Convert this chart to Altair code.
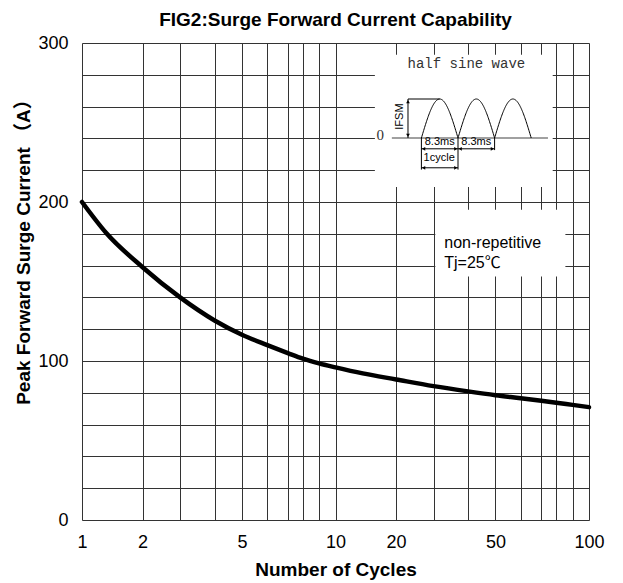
import altair as alt
import pandas as pd
import numpy as np

# ---------------- data ----------------
cycles = [1, 1.4, 2, 3, 4, 5, 6, 7, 8, 9, 10, 14.5, 20, 30, 40, 50, 60, 70, 80, 90, 100]
current = [200, 180.5, 159, 140, 125.5, 116.5, 110, 105, 101.5, 98.5, 96, 92.2,
           88.4, 84.2, 80.9, 78.5, 76.6, 75, 73.8, 72.4, 71]

x_grid = [1, 2, 3, 4, 5, 6, 7, 8, 9, 10, 20, 30, 40, 50, 60, 70, 80, 90, 100]
x_labels = [1, 2, 5, 10, 20, 50, 100]
y_grid = list(range(0, 301, 20))
y_labels = [0, 100, 200, 300]

title_text = "FIG2:Surge Forward Current Capability"

# white annotation boxes (in data units of the main chart)
box_x = [16.5, 30.5]
box_x2 = [77.6, 85.6]
box_y = [209.5, 153.1]
box_y2 = [292.6, 195.1]

note_x = [33.1, 33.1]
note_y = [171.2, 158.6]
note_text = ["non-repetitive", "Tj=25\u2103"]

# inset schematic (x in ms, y in units of IFSM)
half_period = 8.3
base_t = [-6.7, 28.7]
dim_t1 = [-3.04, -3.04, 0, 8.3, 16.6, 0, 8.3, 0]
dim_t2 = [4.15, -3.04, 0, 8.3, 16.6, 8.3, 16.6, 8.3]
dim_a1 = [1, 0, 0, 0, 0, -0.277, -0.277, -0.764]
dim_a2 = [1, 1, -0.81, -0.81, -0.31, -0.277, -0.277, -0.764]
head_t = [-3.04, -3.04, 0.5, 7.8, 8.8, 16.1, 0.5, 7.8]
head_a = [0.93, 0.07, -0.277, -0.277, -0.277, -0.277, -0.764, -0.764]
head_shape = ["triangle-up", "triangle-down", "triangle-left", "triangle-right",
              "triangle-left", "triangle-right", "triangle-left", "triangle-right"]
small_t = [4.15, 12.45, 4.04]
small_a = [-0.108, -0.108, -0.505]
small_text = ["8.3ms", "8.3ms", "1cycle"]

# ---------------- layout / scales ----------------
W, H = 507, 477
FONT = "Liberation Sans, Arial, Noto Sans CJK SC"
decade_frac = [0, 0.239, 0.387, 0.523, 0.631, 0.731, 0.812, 0.871, 0.935]
D = W / 2
x_range = [f * D for f in decade_frac] + [D + f * D for f in decade_frac] + [W]

xs = alt.Scale(domain=x_grid, range=x_range, zero=False, nice=False)
ys = alt.Scale(domain=[0, 300], zero=False, nice=False)
xi = alt.Scale(domain=[-10, 30], range=[295.3, 471.7], nice=False, zero=False)
yi = alt.Scale(domain=[0, 1], range=[95, 56], nice=False, zero=False)

curve_df = pd.DataFrame({"n": cycles, "i": current})
box_df = pd.DataFrame({"x": box_x, "x2": box_x2, "y": box_y, "y2": box_y2})
note_df = pd.DataFrame({"x": note_x, "y": note_y, "t": note_text})
title_df = pd.DataFrame({"x": [10], "y": [310.7], "t": [title_text]})

tt = np.linspace(0, 3 * half_period, 241)
hump_df = pd.DataFrame({"t": tt, "a": np.abs(np.sin(np.pi * tt / half_period))})
base_df = pd.DataFrame({"t": [base_t[0]], "t2": [base_t[1]], "a": [0.0]})
dim_df = pd.DataFrame({"t": dim_t1, "t2": dim_t2, "a": dim_a1, "a2": dim_a2})
head_df = pd.DataFrame({"t": head_t, "a": head_a, "s": head_shape})
small_df = pd.DataFrame({"t": small_t, "a": small_a, "txt": small_text})

x_axis = alt.Axis(values=x_grid,
                  labelExpr="indexof([1,2,5,10,20,50,100], datum.value) >= 0 ? datum.label : ''",
                  grid=True, gridColor="#333", gridWidth=1, gridOpacity=1,
                  ticks=False, tickSize=0, domain=False, labelOverlap=False, labelFlush=False,
                  labelFontSize=18, labelFont=FONT, labelColor="black", labelPadding=13,
                  title="Number of Cycles", titleFontSize=19, titleFont=FONT,
                  titleFontWeight="bold", titleColor="black", titleY=55,
                  titleBaseline="alphabetic")
y_axis = alt.Axis(values=y_grid,
                  labelExpr="datum.value % 100 === 0 ? datum.label : ''",
                  grid=True, gridColor="#333", gridWidth=1, gridOpacity=1,
                  ticks=False, tickSize=0, domain=False, labelOverlap=False,
                  labelFontSize=18, labelFont=FONT, labelColor="black", labelPadding=14,
                  title="Peak Forward Surge Current \uff08A\uff09", titleFontSize=19,
                  titleFont=FONT, titleFontWeight="bold", titleColor="black",
                  titleX=-59, titleY=204, titleAngle=270, titleAlign="center",
                  titleBaseline="middle")

boxes = alt.Chart(box_df).mark_rect(color="white", opacity=1).encode(
    x=alt.X("x:Q", scale=xs, axis=None), x2="x2:Q",
    y=alt.Y("y:Q", scale=ys, axis=None), y2="y2:Q")

curve = alt.Chart(curve_df).mark_line(color="black", strokeWidth=4.5, interpolate="monotone",
                                      strokeCap="round").encode(
    x=alt.X("n:Q", scale=xs, axis=x_axis),
    y=alt.Y("i:Q", scale=ys, axis=y_axis))

notes = alt.Chart(note_df).mark_text(align="left", baseline="alphabetic", fontSize=16,
                                     font=FONT, color="black").encode(
    x=alt.X("x:Q", scale=xs, axis=None), y=alt.Y("y:Q", scale=ys, axis=None), text="t:N")

title = alt.Chart(title_df).mark_text(align="center", baseline="alphabetic", fontSize=19,
                                      fontWeight="bold", font=FONT, color="black").encode(
    x=alt.X("x:Q", scale=xs, axis=None), y=alt.Y("y:Q", scale=ys, axis=None), text="t:N")

base = alt.Chart(base_df).mark_rule(color="#808080", strokeWidth=1.6).encode(
    x=alt.X("t:Q", scale=xi, axis=None), x2="t2:Q", y=alt.Y("a:Q", scale=yi, axis=None))

humps = alt.Chart(hump_df).mark_line(color="black", strokeWidth=1).encode(
    x=alt.X("t:Q", scale=xi, axis=None), y=alt.Y("a:Q", scale=yi, axis=None))

dims = alt.Chart(dim_df).mark_rule(color="black", strokeWidth=1).encode(
    x=alt.X("t:Q", scale=xi, axis=None), x2="t2:Q",
    y=alt.Y("a:Q", scale=yi, axis=None), y2="a2:Q")

heads = alt.Chart(head_df).mark_point(filled=True, color="black", size=14, opacity=1).encode(
    x=alt.X("t:Q", scale=xi, axis=None), y=alt.Y("a:Q", scale=yi, axis=None),
    shape=alt.Shape("s:N", scale=None))

small = alt.Chart(small_df).mark_text(fontSize=11, font=FONT, color="black",
                                      baseline="middle").encode(
    x=alt.X("t:Q", scale=xi, axis=None), y=alt.Y("a:Q", scale=yi, axis=None), text="txt:N")

hsw = alt.Chart(pd.DataFrame({"t": [10.2], "a": [1.905], "txt": ["half sine wave"]})).mark_text(
    fontSize=14, font="Liberation Mono, DejaVu Sans Mono", color="#333", baseline="middle").encode(
    x=alt.X("t:Q", scale=xi, axis=None), y=alt.Y("a:Q", scale=yi, axis=None), text="txt:N")

zero = alt.Chart(pd.DataFrame({"t": [-9.34], "a": [0.085], "txt": ["0"]})).mark_text(
    fontSize=15, font="Liberation Serif, DejaVu Serif", color="#333", baseline="middle").encode(
    x=alt.X("t:Q", scale=xi, axis=None), y=alt.Y("a:Q", scale=yi, axis=None), text="txt:N")

ifsm = alt.Chart(pd.DataFrame({"t": [-4.76], "a": [0.55], "txt": ["IFSM"]})).mark_text(
    fontSize=11, font=FONT, color="black", baseline="middle", angle=270).encode(
    x=alt.X("t:Q", scale=xi, axis=None), y=alt.Y("a:Q", scale=yi, axis=None), text="txt:N")

chart = alt.layer(boxes, curve, notes, title, base, humps, dims, heads, small, hsw, zero,
                  ifsm).resolve_scale(
    x="independent", y="independent"
).properties(
    width=W, height=H,
    autosize=alt.AutoSizeParams(type="none"),
    padding={"left": 74, "top": 35, "right": 24, "bottom": 62},
).configure_view(stroke=None).configure(background="white")

chart.save("out.html", embed_options={"renderer": "svg", "actions": False})
